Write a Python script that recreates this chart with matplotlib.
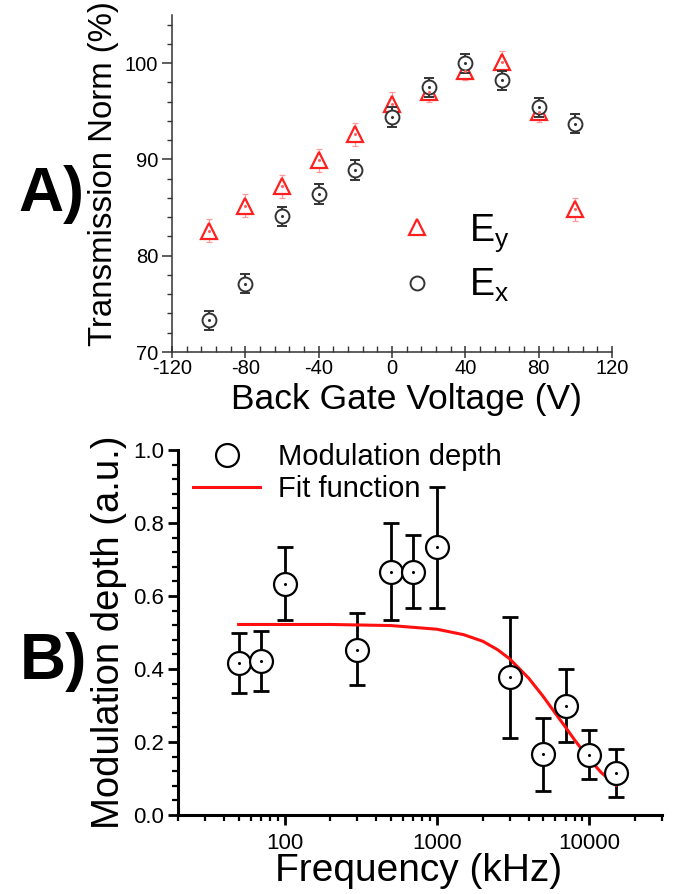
import numpy as np
import matplotlib
matplotlib.use("Agg")
import matplotlib.pyplot as plt
from matplotlib.ticker import MultipleLocator, FixedLocator, LogLocator, NullFormatter

plt.rcParams["font.family"] = ["Liberation Sans", "DejaVu Sans"]
plt.rcParams["mathtext.fontset"] = "custom"
plt.rcParams["mathtext.rm"] = "Liberation Sans"
plt.rcParams["axes.unicode_minus"] = False

# Panel A: transmission vs back gate voltage
voltage = [-100, -80, -60, -40, -20, 0, 20, 40, 60, 80, 100]
ex_vals = [73.3, 77.1, 84.1, 86.4, 88.9, 94.4, 97.5, 100.0, 98.2, 95.4, 93.7]
ex_err = [1.0, 1.0, 1.0, 1.0, 1.0, 1.0, 1.0, 1.0, 1.0, 1.0, 1.0]
ey_vals = [82.6, 85.2, 87.2, 89.9, 92.6, 95.8, 97.0, 99.2, 100.1, 94.9, 84.8]
ey_err = [1.2, 1.2, 1.2, 1.2, 1.2, 1.2, 1.0, 1.0, 1.2, 1.0, 1.2]

# Panel B: modulation depth vs frequency
freq = [50, 70, 100, 300, 500, 700, 1000, 3000, 5000, 7000, 10000, 15000]
depth = [0.417, 0.423, 0.633, 0.453, 0.667, 0.667, 0.733, 0.377, 0.166, 0.300, 0.165, 0.116]
depth_lo = [0.333, 0.340, 0.533, 0.355, 0.533, 0.567, 0.567, 0.210, 0.066, 0.200, 0.099, 0.049]
depth_hi = [0.500, 0.505, 0.733, 0.553, 0.800, 0.767, 0.900, 0.543, 0.266, 0.400, 0.233, 0.182]

fit_freq = [50, 200, 500, 1000, 1500, 2000, 2500, 3000, 4000, 5000, 6000, 7000, 8000, 10000, 12000, 15000]
fit_vals = [0.522, 0.522, 0.519, 0.509, 0.494, 0.476, 0.453, 0.428, 0.375, 0.324, 0.278, 0.240, 0.206, 0.153, 0.116, 0.081]

W, H = 678, 894
fig = plt.figure(figsize=(W / 100, H / 100), dpi=100)


def px_axes(left, top, right, bottom):
    return fig.add_axes([left / W, 1 - bottom / H, (right - left) / W, (bottom - top) / H])


# ---------------- panel A ----------------
ax1 = px_axes(172, 15, 612, 352)
dark = "#333333"
ax1.errorbar(voltage, ey_vals, yerr=ey_err, fmt="none", ecolor="#ff9a9a",
             elinewidth=0.9, capsize=2.5, capthick=0.9, zorder=2)
tri, = ax1.plot(voltage, ey_vals, ls="none", marker="^", ms=12, mfc="white",
                mec="#ff2020", mew=1.6, zorder=3)
ax1.errorbar(voltage, ex_vals, yerr=ex_err, fmt="none", ecolor=dark,
             elinewidth=1.4, capsize=3.5, capthick=1.4, zorder=4)
circ, = ax1.plot(voltage, ex_vals, ls="none", marker="o", ms=10, mfc="white",
                 mec=dark, mew=1.4, zorder=5)
ax1.plot(voltage, ey_vals, ls="none", marker="o", ms=1.2, color="#ff6060", zorder=6)
ax1.plot(voltage, ex_vals, ls="none", marker="o", ms=1.2, color=dark, zorder=6)

ax1.set_xlim(-120, 120)
ax1.set_ylim(70, 105)
ax1.xaxis.set_major_locator(MultipleLocator(40))
ax1.xaxis.set_minor_locator(MultipleLocator(8))
ax1.yaxis.set_major_locator(FixedLocator([70, 80, 90, 100]))
ax1.yaxis.set_minor_locator(MultipleLocator(2))
for s in ["top", "right"]:
    ax1.spines[s].set_visible(False)
for s in ["left", "bottom"]:
    ax1.spines[s].set_color(dark)
    ax1.spines[s].set_linewidth(1.1)
ax1.tick_params(axis="x", which="major", direction="inout", length=8, width=1.1,
                color=dark, labelsize=14.5, pad=1)
ax1.tick_params(axis="x", which="minor", direction="in", length=4, width=1.0, color=dark)
ax1.tick_params(axis="y", which="major", direction="out", length=7, width=1.1,
                color=dark, labelsize=14.5, pad=3)
ax1.tick_params(axis="y", which="minor", direction="out", length=3.5, width=1.0, color=dark)
ax1.set_xlabel("Back Gate Voltage (V)", fontsize=25.5)
ax1.set_ylabel("Transmission Norm (%)", fontsize=23.8)
ax1.xaxis.set_label_coords(0.534, -0.093)
ax1.yaxis.set_label_coords(-0.12, 0.53)

ax1.legend([tri, circ], [r"$\mathregular{E_y}$", r"$\mathregular{E_x}$"],
           loc="center left", bbox_to_anchor=(398 / W, 1 - 258 / H),
           bbox_transform=fig.transFigure, frameon=False, fontsize=27,
           handlelength=1.0, handletextpad=0.9, labelspacing=0.35,
           borderpad=0, borderaxespad=0, numpoints=1)

# ---------------- panel B ----------------
ax2 = px_axes(178, 450, 662, 815)
ax2.set_xscale("log")
yerr = [np.subtract(depth, depth_lo), np.subtract(depth_hi, depth)]
ax2.errorbar(freq, depth, yerr=yerr, fmt="none", ecolor="black", elinewidth=2,
             capsize=6, capthick=2, zorder=2)
fit_line, = ax2.plot(fit_freq, fit_vals, color="#ff1010", lw=2.2, zorder=3,
                     label="Fit function")
mod, = ax2.plot(freq, depth, ls="none", marker="o", ms=16.5, mfc="white", mec="black",
                mew=1.6, zorder=4, label="Modulation depth")
ax2.plot(freq, depth, ls="none", marker="o", ms=1.2, color="black", zorder=5)

ax2.set_xlim(20, 30000)
ax2.set_ylim(0, 1.0)
ax2.xaxis.set_major_locator(FixedLocator([100, 1000, 10000]))
ax2.xaxis.set_minor_locator(LogLocator(base=10, subs=np.arange(2, 10), numticks=20))
ax2.xaxis.set_minor_formatter(NullFormatter())
ax2.set_xticklabels(["100", "1000", "10000"])
ax2.yaxis.set_major_locator(MultipleLocator(0.2))
ax2.yaxis.set_minor_locator(MultipleLocator(0.04))
ax2.yaxis.set_major_formatter(plt.FuncFormatter(lambda v, p: f"{v:.1f}"))
for s in ["top", "right"]:
    ax2.spines[s].set_visible(False)
for s in ["left", "bottom"]:
    ax2.spines[s].set_linewidth(2.2)
ax2.tick_params(which="major", direction="out", length=7, width=2, labelsize=16)
ax2.tick_params(which="minor", direction="out", length=4, width=1.6)
ax2.tick_params(axis="x", which="major", pad=6)
ax2.tick_params(axis="y", which="major", pad=3)
ax2.set_xlabel("Frequency (kHz)", fontsize=28)
ax2.set_ylabel("Modulation depth (a.u.)", fontsize=27.5)
ax2.xaxis.set_label_coords(0.496, -0.105)
ax2.yaxis.set_label_coords(-0.105, 0.5)

ax2.legend([mod, fit_line], ["Modulation depth", "Fit function"],
           loc="center left", bbox_to_anchor=(193 / W, 1 - 473 / H),
           bbox_transform=fig.transFigure, frameon=False, fontsize=21,
           handlelength=2.3, handletextpad=0.6, labelspacing=0.15,
           borderpad=0, borderaxespad=0, numpoints=1)

fig.text(18 / W, 1 - 195 / H, "A)", fontsize=45, fontweight="heavy", va="center", ha="left")
fig.text(20 / W, 1 - 662 / H, "B)", fontsize=46, fontweight="heavy", va="center", ha="left")

fig.savefig("out.png", dpi=100)
